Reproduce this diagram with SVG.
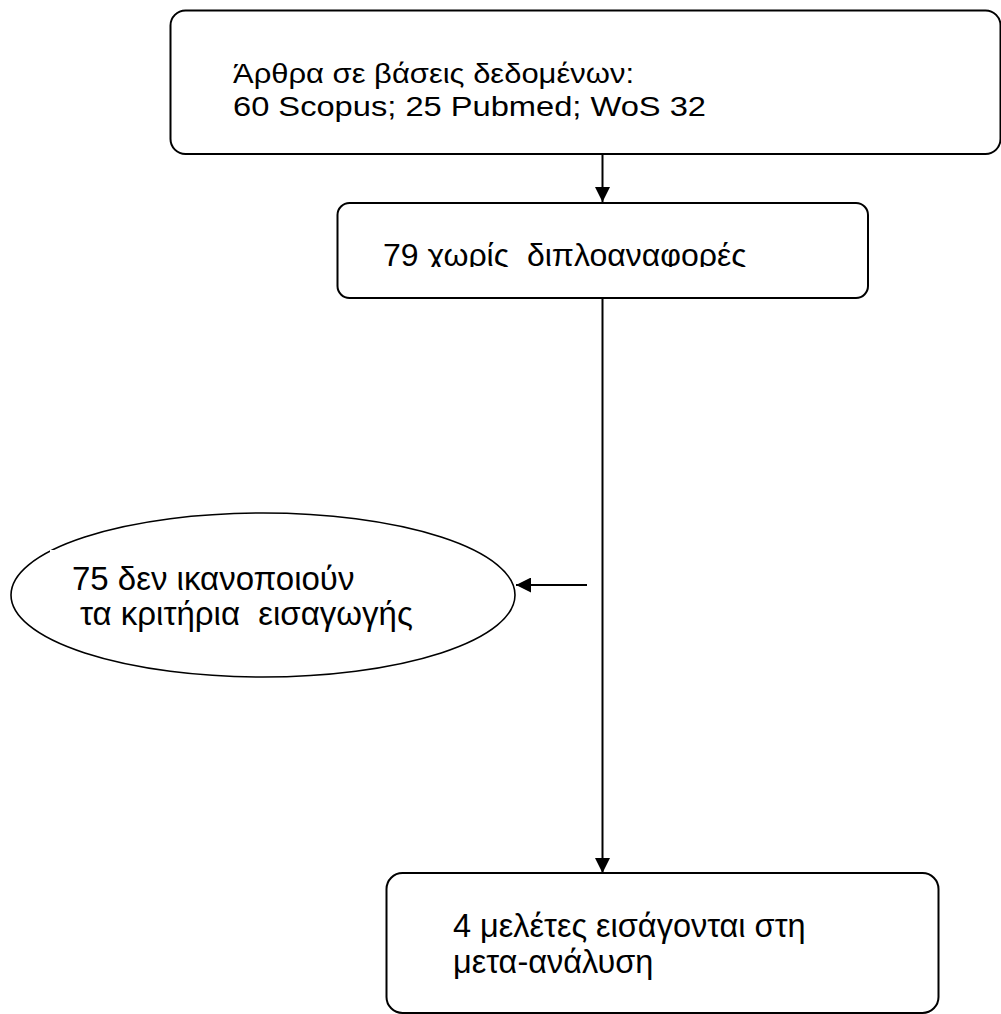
<svg xmlns="http://www.w3.org/2000/svg" width="1001" height="1014" viewBox="0 0 1001 1014">
  <style>
    .box { fill: #ffffff; stroke: #000000; stroke-width: 2; }
    .oval { fill: #ffffff; stroke: #000000; stroke-width: 1.6; }
    .txt { font-family: "Liberation Sans", Arial, sans-serif; fill: #000000; white-space: pre; }
    .wire { stroke: #000000; stroke-width: 2; fill: none; }
  </style>
  <defs>
    <marker id="head" viewBox="0 0 15 15" refX="15" refY="7.5" markerWidth="15" markerHeight="15" markerUnits="userSpaceOnUse" orient="auto">
      <path d="M0,0 L15,7.5 L0,15 Z" fill="#000000"/>
    </marker>
    <clipPath id="clip-dedup">
      <rect x="338" y="204" width="529" height="63"/>
    </clipPath>
  </defs>
  <rect width="1001" height="1014" fill="#ffffff"/>

  <!-- connectors -->
  <g id="connectors">
    <line class="wire" x1="602.5" y1="154" x2="602.5" y2="202" marker-end="url(#head)"/>
    <line class="wire" x1="602.5" y1="298" x2="602.5" y2="873" marker-end="url(#head)"/>
    <line class="wire" x1="587" y1="585" x2="516" y2="585" marker-end="url(#head)"/>
  </g>

  <!-- records found in the databases -->
  <g id="node-records">
    <rect class="box" x="170.5" y="10.5" width="830" height="143.5" rx="15"/>
    <text class="txt" font-size="28.5" x="233" y="83" textLength="401" lengthAdjust="spacingAndGlyphs">Άρθρα σε βάσεις δεδομένων:</text>
    <text class="txt" font-size="28.5" x="233" y="116" textLength="473" lengthAdjust="spacingAndGlyphs">60 Scopus; 25 Pubmed; WoS 32</text>
  </g>

  <!-- after removing duplicates -->
  <g id="node-dedup">
    <rect class="box" x="337.5" y="203" width="530.5" height="95" rx="12"/>
    <text class="txt" font-size="32" x="383" y="265.5" clip-path="url(#clip-dedup)">79 χωρίς  διπλοαναφορές</text>
  </g>

  <!-- excluded records -->
  <g id="node-excluded">
    <ellipse class="oval" cx="263" cy="595" rx="252" ry="82"/>
    <rect x="50" y="550" width="380" height="88" fill="#ffffff"/>
    <text class="txt" font-size="33" x="72" y="590">75 δεν ικανοποιούν</text>
    <text class="txt" font-size="33" x="80" y="625">τα κριτήρια  εισαγωγής</text>
  </g>

  <!-- included studies -->
  <g id="node-included">
    <rect class="box" x="386.5" y="873" width="552" height="140" rx="16"/>
    <text class="txt" font-size="32.5" x="453" y="937">4 μελέτες εισάγονται στη</text>
    <text class="txt" font-size="32.5" x="453" y="973">μετα-ανάλυση</text>
  </g>
</svg>
